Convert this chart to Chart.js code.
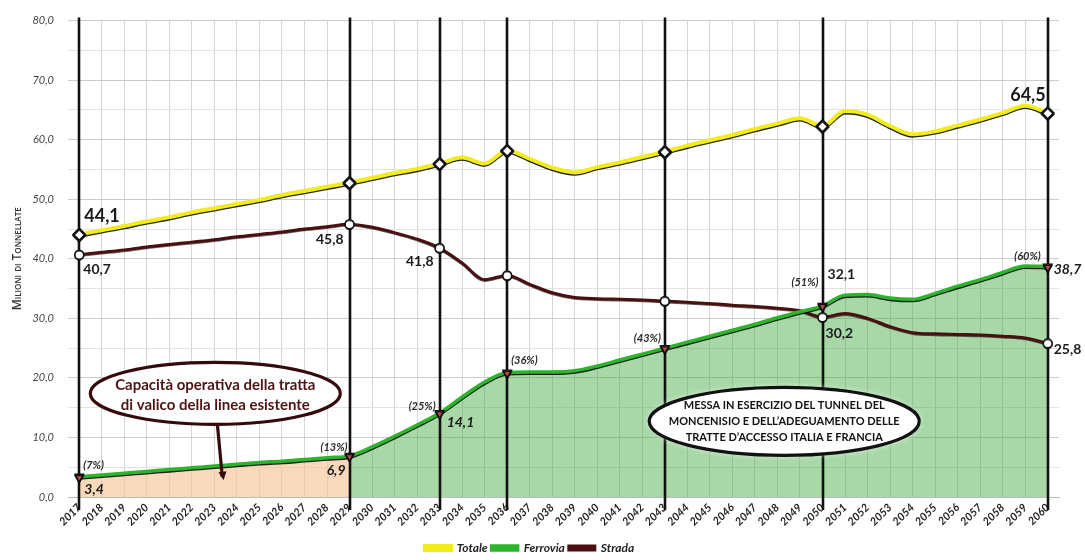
<!DOCTYPE html>
<html>
<head>
<meta charset="utf-8">
<script src="https://cdn.jsdelivr.net/npm/chart.js@4/dist/chart.umd.min.js"></script>
<style>
  html, body { margin: 0; padding: 0; background: #fff; }
  #wrap { width: 1085px; height: 560px; }
</style>
</head>
<body>
<div id="wrap"><canvas id="traffico"></canvas></div>
<script>
const anni = [];
for (let a = 2017; a <= 2060; a++) anni.push(String(a));

const totale = [44.1, 44.8, 45.5, 46.3, 47.0, 47.8, 48.5, 49.2, 49.9, 50.7, 51.4, 52.1, 52.8,
  53.6, 54.4, 55.1, 56.0, 57.0, 56.0, 58.2, 56.8, 55.3, 54.5, 55.4, 56.2, 57.1, 58.0,
  59.0, 59.9, 60.8, 61.8, 62.7, 63.6, 62.3, 64.8, 64.2, 62.3, 60.9, 61.4, 62.4, 63.4, 64.5, 65.7, 64.5];

const ferrovia = [3.4, 3.7, 4.0, 4.3, 4.6, 4.9, 5.2, 5.5, 5.8, 6.0, 6.3, 6.6, 6.9,
  8.4, 10.2, 12.1, 14.1, 16.8, 19.3, 20.9, 21.0, 21.0, 21.2, 22.0, 23.0, 24.0, 25.0,
  26.0, 27.0, 28.0, 29.0, 30.1, 31.1, 32.1, 33.9, 34.0, 33.4, 33.2, 34.2, 35.4, 36.5, 37.7, 38.8, 38.7];

const strada = [40.7, 41.1, 41.5, 42.0, 42.4, 42.8, 43.2, 43.7, 44.1, 44.5, 45.0, 45.4, 45.8,
  45.3, 44.4, 43.3, 41.8, 39.3, 36.5, 37.2, 35.7, 34.3, 33.5, 33.3, 33.2, 33.1, 32.9,
  32.7, 32.5, 32.2, 32.0, 31.7, 31.3, 30.2, 30.8, 30.0, 28.6, 27.6, 27.4, 27.3, 27.2, 27.0, 26.7, 25.8];

// anni con le linee verticali e i marcatori
const anniChiave = ['2017', '2029', '2033', '2036', '2043', '2050', '2060'];
const quotaFerrovia = ['(7%)', '(13%)', '(25%)', '(36%)', '(43%)', '(51%)', '(60%)'];

const keyIdx = anniChiave.map(a => anni.indexOf(a));
const fineEsistente = anni.indexOf('2029');

const fillEsistente = ferrovia.map((v, i) => i <= fineEsistente ? v : null);
const fillNuova = ferrovia.map((v, i) => i >= fineEsistente ? v : null);

const isKey = ctx => keyIdx.includes(ctx.dataIndex);
const fmt = v => v.toFixed(1).replace('.', ',');

// etichette numeriche: [dataset, anno, testo, dx, dy, align, font]
const fontNum = "bold 14px Lato";
const fontNumIt = "italic bold 14px Lato";
const fontPct = "italic bold 11px Lato";
const etichette = [
  [0, '2017', fmt(totale[0]), 5, -18, 'left', "bold 18px Lato"],
  [0, '2060', '64,5', -2, -18, 'right', "bold 18px Lato"],
  [2, '2017', fmt(strada[0]), 4, 15, 'left', fontNum],
  [2, '2029', fmt(strada[12]), -6, 15, 'right', fontNum],
  [2, '2033', fmt(strada[16]), -6, 13, 'right', fontNum],
  [2, '2050', fmt(strada[33]), 3, 16, 'left', fontNum],
  [2, '2060', fmt(strada[43]), 6, 6, 'left', fontNum],
  [1, '2017', fmt(ferrovia[0]), 5, 13, 'left', fontNumIt],
  [1, '2029', fmt(ferrovia[12]), -4, 15, 'right', fontNumIt],
  [1, '2033', fmt(ferrovia[16]), 7, 9, 'left', fontNumIt],
  [1, '2050', fmt(ferrovia[33]), 5, -31, 'left', fontNum],
  [1, '2060', fmt(ferrovia[43]), 6, 3, 'left', fontNumIt]
];
const posPct = [[4, -11, 'left'], [-2, -8, 'right'], [-4, -7, 'right'], [4, -12, 'left'],
  [-4, -10, 'right'], [-4, -23, 'right'], [-7, -10, 'right']];

const decorazioni = {
  id: 'decorazioni',
  afterLayout(chart) {
    // legenda un po' più in basso, come nell'originale
    chart.legend.top += 4;
    chart.legend.bottom += 4;
  },
  beforeDatasetDraw(chart, args) {
    const ctx = chart.ctx;
    if (args.index === 2) {
      const x = chart.scales.x;
      const area = chart.chartArea;
      ctx.save();
      ctx.strokeStyle = '#111';
      ctx.lineWidth = 2.6;
      keyIdx.forEach(i => {
        const px = Math.round(x.getPixelForValue(i));
        ctx.beginPath();
        ctx.moveTo(px, area.top - 3);
        ctx.lineTo(px, area.bottom + 13);
        ctx.stroke();
      });
      ctx.restore();
    }
    if (args.index <= 2) {
      ctx.save();
      ctx.shadowColor = args.index === 2 ? 'rgba(0,0,0,0.6)' : 'rgba(0,0,0,0.85)';
      ctx.shadowOffsetY = args.index === 2 ? 0.8 : 1.3;
      ctx.shadowBlur = 0.6;
    }
  },
  afterDatasetDraw(chart, args) {
    if (args.index <= 2) chart.ctx.restore();
  },
  afterDatasetsDraw(chart) {
    const ctx = chart.ctx;
    const x = chart.scales.x, y = chart.scales.y;

    // etichette valori
    ctx.save();
    ctx.textBaseline = 'middle';
    ctx.fillStyle = '#1b1b1b';
    etichette.forEach(([ds, anno, testo, dx, dy, align, font]) => {
      const p = chart.getDatasetMeta(ds).data[anni.indexOf(anno)];
      ctx.font = font;
      ctx.textAlign = align;
      ctx.fillText(testo, p.x + dx, p.y + dy);
    });
    ctx.font = fontPct;
    ctx.fillStyle = '#2a2a2a';
    keyIdx.forEach((i, k) => {
      const p = chart.getDatasetMeta(1).data[i];
      const [dx, dy, align] = posPct[k];
      ctx.textAlign = align;
      ctx.fillText(quotaFerrovia[k], p.x + dx, p.y + dy);
    });
    ctx.restore();

    // fumetto linea esistente con freccia
    const e1x = x.getPixelForValue(6.04), e1y = y.getPixelForValue(17.4);
    ctx.save();
    ctx.strokeStyle = '#340a0a';
    ctx.fillStyle = '#340a0a';
    ctx.lineWidth = 3.2;
    ctx.beginPath();
    ctx.moveTo(e1x + 2, e1y + 30);
    ctx.lineTo(x.getPixelForValue(6.35), y.getPixelForValue(3.4));
    ctx.stroke();
    const tx = x.getPixelForValue(6.36), ty = y.getPixelForValue(3.0);
    ctx.beginPath();
    ctx.moveTo(tx - 4, ty - 7);
    ctx.lineTo(tx + 4, ty - 8);
    ctx.lineTo(tx + 1, ty + 1);
    ctx.closePath();
    ctx.fill();
    ctx.beginPath();
    ctx.ellipse(e1x, e1y, 125, 31, 0, 0, Math.PI * 2);
    ctx.fillStyle = '#fff';
    ctx.fill();
    ctx.stroke();
    ctx.fillStyle = '#4e1414';
    ctx.font = 'bold 15px Lato';
    ctx.textAlign = 'center';
    ctx.textBaseline = 'middle';
    ctx.fillText('Capacità operativa della tratta', e1x, e1y - 8);
    ctx.fillText('di valico della linea esistente', e1x, e1y + 12);
    ctx.restore();

    // fumetto nuova linea
    const e2x = x.getPixelForValue(31.3), e2y = y.getPixelForValue(12.7);
    ctx.save();
    ctx.shadowColor = 'rgba(255,255,255,0.9)';
    ctx.shadowBlur = 6;
    ctx.beginPath();
    ctx.ellipse(e2x, e2y, 135, 34, 0, 0, Math.PI * 2);
    ctx.fillStyle = '#fff';
    ctx.fill();
    ctx.shadowBlur = 0;
    ctx.strokeStyle = '#111';
    ctx.lineWidth = 3.2;
    ctx.stroke();
    ctx.fillStyle = '#111';
    ctx.font = 'bold 11px Lato';
    ctx.textAlign = 'center';
    ctx.textBaseline = 'middle';
    ctx.fillText('MESSA IN ESERCIZIO DEL TUNNEL DEL', e2x, e2y - 16);
    ctx.fillText('MONCENISIO E DELL\u2019ADEGUAMENTO DELLE', e2x, e2y);
    ctx.fillText('TRATTE D\u2019ACCESSO ITALIA E FRANCIA', e2x, e2y + 16);
    ctx.restore();

    // titolo asse y
    ctx.save();
    ctx.translate(18, (chart.chartArea.top + chart.chartArea.bottom) / 2);
    ctx.rotate(-Math.PI / 2);
    ctx.font = "small-caps 600 12px 'Open Sans'";
    ctx.fillStyle = '#333';
    ctx.textAlign = 'center';
    ctx.textBaseline = 'middle';
    ctx.fillText('Milioni di Tonnellate', 0, 0);
    ctx.restore();
  }
};

new Chart(document.getElementById('traffico'), {
  type: 'line',
  data: {
    labels: anni,
    datasets: [
      {
        label: 'Totale',
        data: totale,
        borderColor: '#f3ec1c',
        backgroundColor: '#f3ec1c',
        borderWidth: 4,
        cubicInterpolationMode: 'monotone',
        pointStyle: 'rectRot',
        pointRadius: ctx => isKey(ctx) ? 6 : 0,
        pointBackgroundColor: '#fff',
        pointBorderColor: '#111',
        pointBorderWidth: 1.8,
        fill: false,
        order: 1
      },
      {
        label: 'Ferrovia',
        data: ferrovia,
        borderColor: '#2cb52c',
        backgroundColor: '#2cb52c',
        borderWidth: 3.5,
        cubicInterpolationMode: 'monotone',
        pointStyle: 'triangle',
        rotation: 180,
        pointRadius: ctx => isKey(ctx) ? 5 : 0,
        pointBackgroundColor: '#c2504a',
        pointBorderColor: '#111',
        pointBorderWidth: 1.3,
        fill: false,
        order: 1
      },
      {
        label: 'Strada',
        data: strada,
        borderColor: '#4a0f10',
        backgroundColor: '#4a0f10',
        borderWidth: 3,
        cubicInterpolationMode: 'monotone',
        pointStyle: 'circle',
        pointRadius: ctx => isKey(ctx) ? 4.5 : 0,
        pointBackgroundColor: '#fff',
        pointBorderColor: '#111',
        pointBorderWidth: 1.5,
        fill: false,
        order: 1
      },
      {
        label: 'esistente',
        data: fillEsistente,
        borderWidth: 0,
        pointRadius: 0,
        cubicInterpolationMode: 'monotone',
        backgroundColor: 'rgba(246, 196, 150, 0.65)',
        fill: 'origin',
        order: 5
      },
      {
        label: 'nuova',
        data: fillNuova,
        borderWidth: 0,
        pointRadius: 0,
        cubicInterpolationMode: 'monotone',
        backgroundColor: 'rgba(70, 170, 70, 0.47)',
        fill: 'origin',
        order: 5
      }
    ]
  },
  options: {
    responsive: true,
    maintainAspectRatio: false,
    animation: false,
    layout: { padding: { left: 0, right: 26, top: 7, bottom: 0 } },
    plugins: {
      tooltip: { enabled: false },
      legend: {
        position: 'bottom',
        labels: {
          filter: item => item.datasetIndex <= 2,
          boxWidth: 26,
          boxHeight: 4,
          padding: 4,
          color: '#222',
          font: { family: 'Lato', size: 12, style: 'italic', weight: 'bold' }
        }
      }
    },
    scales: {
      x: {
        offset: true,
        grid: { color: '#d6d6d6', drawTicks: false },
        border: { color: '#bbb' },
        ticks: {
          autoSkip: false,
          minRotation: 45,
          maxRotation: 45,
          padding: 4,
          color: '#222',
          font: { family: 'Lato', size: 11, style: 'italic', weight: 'bold' }
        },
        afterFit: s => { s.height = 37; }
      },
      y: {
        min: 0,
        max: 80,
        grid: {
          drawTicks: false,
          color: c => c.tick && c.tick.value % 10 === 0 ? '#cdcdcd' : '#e3e3e3'
        },
        border: { display: false },
        ticks: {
          stepSize: 5,
          padding: 14,
          color: '#444',
          font: { family: 'Lato', size: 11, style: 'italic' },
          callback: v => v % 10 === 0 ? fmt(v) : ''
        },
        afterFit: s => { s.width = 68; }
      }
    }
  },
  plugins: [decorazioni]
});
</script>
</body>
</html>
